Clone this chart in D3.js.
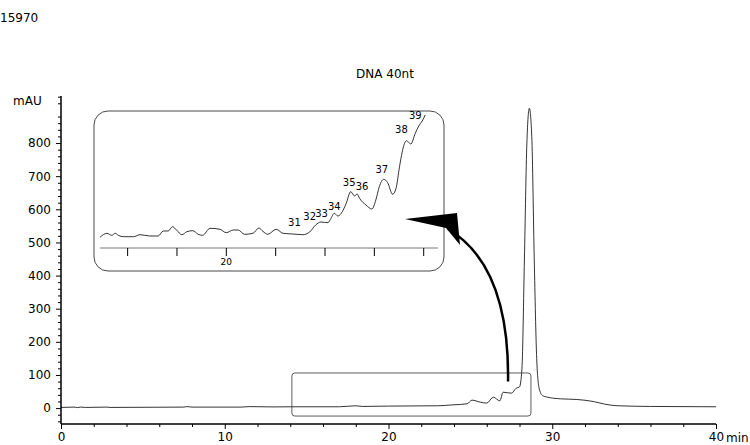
<!DOCTYPE html><html><head><meta charset="utf-8">
<script src="https://cdn.jsdelivr.net/npm/d3@7"></script>
<style>body{margin:0;background:#fff}svg{font-family:"DejaVu Sans",Verdana,sans-serif}</style></head><body>
<svg id="c" width="750" height="445"></svg>
<script>
const mainTrace=[[0,2],[0.8,3],[1,1.5],[1.2,3],[1.5,2],[2.8,3],[3,2],[7.5,3],[7.7,4.5],[8,3],[11,3],[11.5,4.5],[13,3.5],[14,4],[17,4],[18,7],[18.4,5],[20,6],[23,7],[24,10],[24.8,13],[25.1,24],[25.6,18],[26,15],[26.4,33],[26.8,22],[27,48],[27.5,45],[27.8,60],[28.0,64],[28.15,120],[28.3,450],[28.45,800],[28.6,905],[28.75,820],[28.9,450],[29.05,150],[29.2,60],[29.4,38],[29.7,33],[30.5,28],[31.5,26],[32.5,20],[33.2,12],[34,7],[36,5],[40,4]];
const insetTrace=[[17.45,10.7],[17.59,14.7],[17.69,12.7],[17.76,14.7],[17.82,12.7],[17.93,11.3],[18.13,11.3],[18.26,13.3],[18.46,12],[18.63,12],[18.73,17],[18.83,17],[18.92,21.3],[19.0,18],[19.11,13.3],[19.21,16.3],[19.33,17.3],[19.44,13.7],[19.53,12.7],[19.68,19.7],[19.88,18.7],[20.01,15.3],[20.15,18],[20.25,18],[20.38,13.7],[20.55,14.7],[20.67,20],[20.75,16.7],[20.85,13.7],[21.02,18.7],[21.16,14.7],[21.36,14],[21.56,13.3],[21.70,16],[21.82,23],[21.93,26],[22.07,25.3],[22.12,28.7],[22.20,34.7],[22.27,32],[22.34,34.7],[22.44,44.7],[22.53,56.3],[22.61,52],[22.66,54],[22.71,49.7],[22.84,43],[22.96,39],[23.04,48],[23.11,61.3],[23.20,68.7],[23.28,65.3],[23.38,53.7],[23.45,59.7],[23.52,81.3],[23.60,101.3],[23.66,107.3],[23.75,104],[23.84,114.7],[23.91,122],[23.98,127],[24.04,133]];
const peakLabels=[["31",21.39,22],["32",21.70,28],["33",21.94,31],["34",22.2,38],["35",22.5,62],["36",22.76,58],["37",23.16,75],["38",23.56,115],["39",23.84,129]];
const yTicks=[0,100,200,300,400,500,600,700,800];
const xTicks=[0,10,20,30,40];
const insetTicks=[18,19,20,21,22,23,24];
const zoomBox={x0:14.1,x1:28.7,y0:-24,y1:106};

const svg=d3.select("#c");
const x=d3.scaleLinear().domain([0,40]).range([61,716]);
const y=d3.scaleLinear().domain([-48,942]).range([424,96]);
svg.append("text").attr("x",0).attr("y",22).attr("font-size",12).text("15970");
svg.append("text").attr("x",385).attr("y",78).attr("font-size",12).attr("text-anchor","middle").text("DNA 40nt");
svg.append("text").attr("x",13).attr("y",105).attr("font-size",12).text("mAU");
svg.append("text").attr("x",726).attr("y",442).attr("font-size",12).text("min");
const ya=svg.append("g").attr("transform","translate(61,0)");
ya.call(d3.axisLeft(y).tickValues(yTicks).tickSize(5).tickPadding(5).tickFormat(d3.format("d")));
ya.append("g").call(d3.axisLeft(y).tickValues(d3.range(-40,941,20).filter(v=>v%100)).tickSize(3).tickFormat(""));
ya.selectAll("text").attr("font-size",12).attr("fill","#000").attr("font-family","DejaVu Sans");
ya.selectAll(".domain").attr("d",`M0,${y.range()[0]}V${y.range()[1]}`);
const xa=svg.append("g").attr("transform","translate(0,424)");
xa.call(d3.axisBottom(x).tickValues(xTicks).tickSize(5).tickPadding(3).tickFormat(d3.format("d")));
xa.append("g").call(d3.axisBottom(x).tickValues(d3.range(2,40,2).filter(v=>v%10)).tickSize(3).tickFormat(""));
xa.selectAll("text").attr("font-size",12).attr("fill","#000").attr("font-family","DejaVu Sans");
xa.selectAll(".domain").attr("d",`M${x.range()[0]},0H${x.range()[1]}`);
svg.append("path").datum(mainTrace).attr("fill","none").attr("stroke","#000").attr("stroke-width",0.8)
 .attr("d",d3.line().x(d=>x(d[0])).y(d=>y(d[1])).curve(d3.curveMonotoneX));
svg.append("rect").attr("x",x(zoomBox.x0)).attr("y",y(zoomBox.y1)).attr("width",x(zoomBox.x1)-x(zoomBox.x0))
 .attr("height",y(zoomBox.y0)-y(zoomBox.y1)).attr("rx",3).attr("fill","none").attr("stroke","#333").attr("stroke-width",0.8);
const ix=d3.scaleLinear().domain([17.45,24.3]).range([100,438]);
const iy=d3.scaleLinear().domain([0,137]).range([248,111]);
svg.append("rect").attr("x",94).attr("y",111).attr("width",350).attr("height",160).attr("rx",14)
 .attr("fill","none").attr("stroke","#333").attr("stroke-width",0.9);
svg.append("line").attr("x1",ix(17.45)).attr("x2",ix(24.3)).attr("y1",iy(0)).attr("y2",iy(0)).attr("stroke","#bbb").attr("stroke-width",2);
const ia=svg.append("g").attr("transform",`translate(0,${iy(0)})`);
ia.call(d3.axisBottom(ix).tickValues(insetTicks).tickSize(8).tickFormat(d=>d===20?"20":""));
ia.select(".domain").remove();
ia.selectAll("text").attr("font-size",9).attr("fill","#000").attr("font-family","DejaVu Sans");
svg.append("path").datum(insetTrace).attr("fill","none").attr("stroke","#000").attr("stroke-width",0.8)
 .attr("d",d3.line().x(d=>ix(d[0])).y(d=>iy(d[1])).curve(d3.curveMonotoneX));
svg.selectAll(".pl").data(peakLabels).join("text").attr("x",d=>ix(d[1])).attr("y",d=>iy(d[2]))
 .attr("font-size",10).attr("text-anchor","middle").text(d=>d[0]);
const p0=[x(27.3),y(80)], pc=[x(27.4),y(430)], p1=[448,229];
svg.append("path").attr("d",`M${p0}Q${pc} ${p1}`).attr("fill","none").attr("stroke","#000").attr("stroke-width",2.5);
svg.append("path").attr("d","M405,219L457,213L460,245L446,228Z").attr("fill","#000");
</script></body></html>
